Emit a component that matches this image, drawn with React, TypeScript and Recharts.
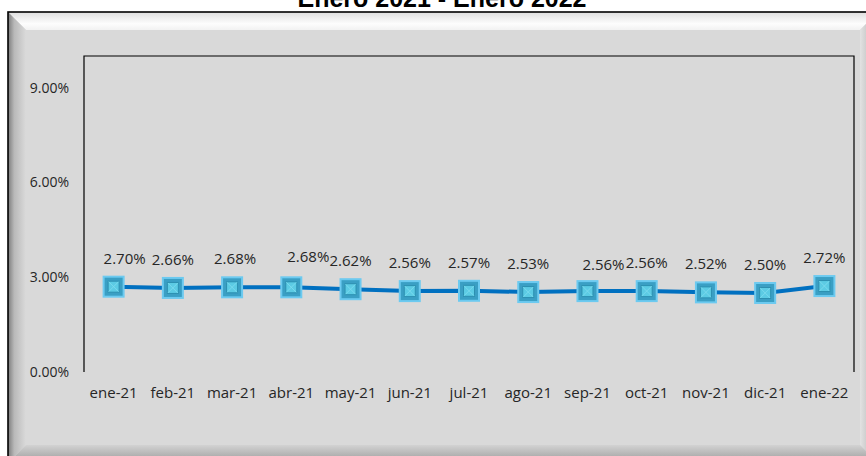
import React from 'react';
import { LineChart, Line, XAxis, YAxis } from 'recharts';

const months = ['ene-21', 'feb-21', 'mar-21', 'abr-21', 'may-21', 'jun-21', 'jul-21', 'ago-21', 'sep-21', 'oct-21', 'nov-21', 'dic-21', 'ene-22'];
const rates = [2.70, 2.66, 2.68, 2.68, 2.62, 2.56, 2.57, 2.53, 2.56, 2.56, 2.52, 2.50, 2.72];
const yTicks = [0, 3, 6, 9];
const titleText = 'Enero 2021 - Enero 2022';

// label nudges (style only)
const LABEL_DX = [11, 0, 3, 17, 0, 0, 0, 0, 16, 0, 0, 0, 0];
const LABEL_DY = [0, 0, 0, -2, 0, 0, 0, 0, 2, 0, 0, 0, 0];

const data = months.map((m, i) => ({ month: m, value: rates[i] }));

const W = 866;
const H = 456;
const XH = 30;
const M = { top: 56, right: 12, bottom: 84 - XH, left: 0 };
const YW = 84;
const PL = M.left + YW;
const PR = W - M.right;
const PT = M.top;
const PB = H - M.bottom - XH;
const FONT = '"Open Sans", sans-serif';
const TXT = '#262626';

const Marker = (props: any) => {
  const { cx, cy, index } = props;
  if (cx == null || cy == null) return <g key={`d${index}`} />;
  return (
    <g key={`d${index}`}>
      <rect x={cx - 10} y={cy - 10} width={20} height={20} fill="#3a9fc4" stroke="#6ccaf0" strokeWidth={2} />
      <rect x={cx - 5.5} y={cy - 5.5} width={11} height={11} fill="#5ccbe4" stroke="#2c8fb0" strokeWidth={1} />
      <path d={`M${cx - 5} ${cy - 5} L${cx + 5} ${cy + 5} M${cx + 5} ${cy - 5} L${cx - 5} ${cy + 5}`} stroke="#7fdcef" strokeWidth={0.8} />
    </g>
  );
};

const DataLabel = (props: any) => {
  const { x, y, value, index } = props;
  return (
    <text
      key={`l${index}`}
      x={x + (LABEL_DX[index] || 0)}
      y={y - 23 + (LABEL_DY[index] || 0)}
      textAnchor="middle"
      fontFamily={FONT}
      fontSize={15}
      fill={TXT}
    >
      {Number(value).toFixed(2)}%
    </text>
  );
};

const Frame = () => {
  const x0 = 8, y0 = 12, x1 = 878, y1 = 463, b = 18;
  return (
    <svg width={W} height={H} style={{ position: 'absolute', left: 0, top: 0 }}>
      <defs>
        <linearGradient id="gTop" x1="0" y1="0" x2="0" y2="1">
          <stop offset="0" stopColor="#dedede" />
          <stop offset="0.65" stopColor="#fdfdfd" />
          <stop offset="1" stopColor="#f2f2f2" />
        </linearGradient>
        <linearGradient id="gLeft" x1="0" y1="0" x2="1" y2="0">
          <stop offset="0" stopColor="#7c7c7c" />
          <stop offset="0.35" stopColor="#b9b9b9" />
          <stop offset="1" stopColor="#dadada" />
        </linearGradient>
        <linearGradient id="gRight" x1="0" y1="0" x2="1" y2="0">
          <stop offset="0" stopColor="#e2e2e2" />
          <stop offset="1" stopColor="#a8a8a8" />
        </linearGradient>
        <linearGradient id="gBottom" x1="0" y1="0" x2="0" y2="1">
          <stop offset="0" stopColor="#d2d2d2" />
          <stop offset="1" stopColor="#9a9a9a" />
        </linearGradient>
      </defs>
      <rect x={0} y={0} width={W} height={H} fill="#ffffff" />
      <text x={442} y={7} textAnchor="middle" fontFamily='"Liberation Sans", Arial, sans-serif' fontWeight="bold" fontSize={25} fill="#000">
        {titleText}
      </text>
      <rect x={x0} y={y0} width={x1 - x0} height={y1 - y0} fill="#d9d9d9" />
      <polygon points={`${x0},${y0} ${x1},${y0} ${x1 - b},${y0 + b} ${x0 + b},${y0 + b}`} fill="url(#gTop)" />
      <polygon points={`${x0},${y0} ${x0 + b},${y0 + b} ${x0 + b},${y1 - b} ${x0},${y1}`} fill="url(#gLeft)" />
      <polygon points={`${x1},${y0} ${x1},${y1} ${x1 - b},${y1 - b} ${x1 - b},${y0 + b}`} fill="url(#gRight)" />
      <polygon points={`${x0 + b},${y1 - b} ${x1 - b},${y1 - b} ${x1},${y1} ${x0},${y1}`} fill="url(#gBottom)" />
      <rect x={x0} y={y0} width={x1 - x0} height={y1 - y0} fill="none" stroke="#000" strokeWidth={1.6} />
      <path d={`M${PL} ${PB} V${PT} H${PR} V${PB}`} fill="none" stroke="#000" strokeWidth={1.2} />
    </svg>
  );
};

export default function App() {
  const pad = (PR - PL) / months.length / 2;
  return (
    <div style={{ position: 'absolute', left: 0, top: 0, width: W, height: H }}>
      <Frame />
      <div style={{ position: 'absolute', left: 0, top: 0 }}>
        <LineChart width={W} height={H} data={data} margin={M}>
          <XAxis
            dataKey="month"
            height={XH}
            padding={{ left: pad, right: pad }}
            axisLine={false}
            tickLine={false}
            tickSize={0}
            tickMargin={15}
            interval={0}
            tick={{ fontFamily: FONT, fontSize: 15, fill: TXT }}
          />
          <YAxis
            width={YW}
            domain={[0, 10]}
            ticks={yTicks}
            allowDataOverflow
            axisLine={false}
            tickLine={false}
            tickSize={0}
            tickMargin={15}
            tickFormatter={(v: number) => `${v.toFixed(2)}%`}
            tick={{ fontFamily: FONT, fontSize: 14, fill: TXT }}
          />
          <Line
            type="linear"
            dataKey="value"
            stroke="#0070c0"
            strokeWidth={4}
            dot={Marker}
            activeDot={false}
            label={DataLabel}
            isAnimationActive={false}
          />
        </LineChart>
      </div>
    </div>
  );
}
